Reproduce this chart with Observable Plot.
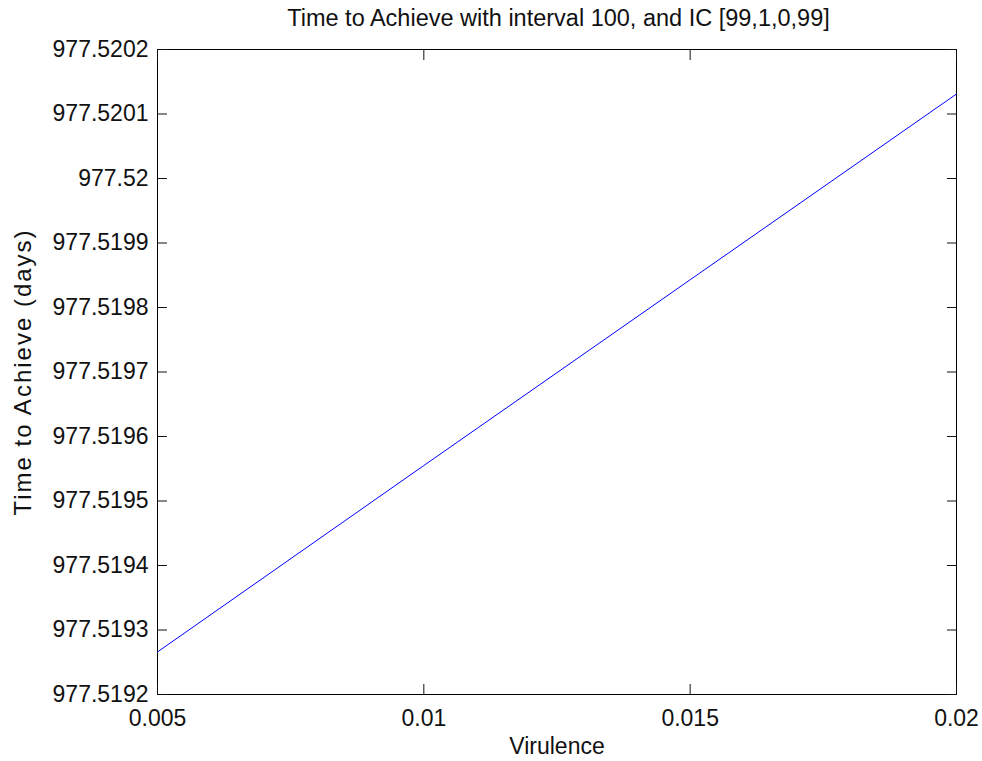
<!DOCTYPE html>
<html><head><meta charset="utf-8">
<script src="https://cdn.jsdelivr.net/npm/d3@7"></script>
<script src="https://cdn.jsdelivr.net/npm/@observablehq/plot@0.6"></script>
<style>
body{margin:0;background:#fff;font-family:"Liberation Sans",Arial,sans-serif;}
#title{height:30px;overflow:visible;box-sizing:border-box;padding-left:157px;width:960px;text-align:center;font-size:23.5px;line-height:36px;color:#111;white-space:nowrap;}
#chart svg{display:block;}
</style></head><body>
<div id="title">Time to Achieve with interval 100, and IC [99,1,0,99]</div>
<div id="chart"></div>
<script>
const virulence = [0.005, 0.01, 0.015, 0.02];
const timeToAchieve = [977.519266, 977.519555, 977.519843, 977.520131];
const xTicks = [0.005, 0.01, 0.015, 0.02];
const yTicks = [977.5192, 977.5193, 977.5194, 977.5195, 977.5196, 977.5197, 977.5198, 977.5199, 977.52, 977.5201, 977.5202];
const yTickLabels = ["977.5192","977.5193","977.5194","977.5195","977.5196","977.5197","977.5198","977.5199","977.52","977.5201","977.5202"];
const xTickLabels = ["0.005","0.01","0.015","0.02"];
const data = virulence.map((v,i)=>({v, t: timeToAchieve[i]}));
const chart = Plot.plot({
  width: 982, height: 731,
  marginTop: 19, marginBottom: 67, marginLeft: 157, marginRight: 26,
  style: {fontFamily: '"Liberation Sans", Arial, sans-serif', fontSize: "23px", color: "#111", background: "#fff", overflow: "visible"},
  x: {domain: [0.005, 0.02]},
  y: {domain: [977.5192, 977.5202]},
  marks: [
    Plot.frame({stroke: "#000", strokeWidth: 1}),
    Plot.axisY(yTicks, {anchor: "left", tickSize: 0, tickPadding: 9, tickFormat: (d,i)=>yTickLabels[i], label: null}),
    Plot.axisY(yTicks, {anchor: "left", tickSize: -10, text: null, label: null}),
    Plot.axisY(yTicks, {anchor: "right", tickSize: -10, text: null, label: null}),
    Plot.axisX(xTicks, {anchor: "bottom", tickSize: 0, tickPadding: 15, tickFormat: (d,i)=>xTickLabels[i], label: "Virulence", labelAnchor: "center", labelOffset: 59, labelArrow: "none"}),
    Plot.axisX(xTicks, {anchor: "bottom", tickSize: -10, text: null, label: null}),
    Plot.axisX(xTicks, {anchor: "top", tickSize: -10, text: null, label: null}),
    Plot.axisY(yTicks, {anchor: "left", tickSize: 0, text: null, label: "Time to Achieve (days)", labelAnchor: "center", labelOffset: 144, labelArrow: "none", fontSize: 24, ariaLabel: "ylabel"}),
    Plot.line(data, {x: "v", y: "t", stroke: "#0000ff", strokeWidth: 1})
  ]
});
d3.select(chart).selectAll("text").filter(function(){ return this.textContent === "Time to Achieve (days)"; })
  .attr("letter-spacing", "2px").attr("dy", null);
d3.select(chart).selectAll("text").filter(function(){ return this.textContent === "Time to Achieve (days)"; })
  .attr("transform", function(){ return d3.select(this).attr("transform"); });
document.getElementById("chart").appendChild(chart);
</script>
</body></html>
